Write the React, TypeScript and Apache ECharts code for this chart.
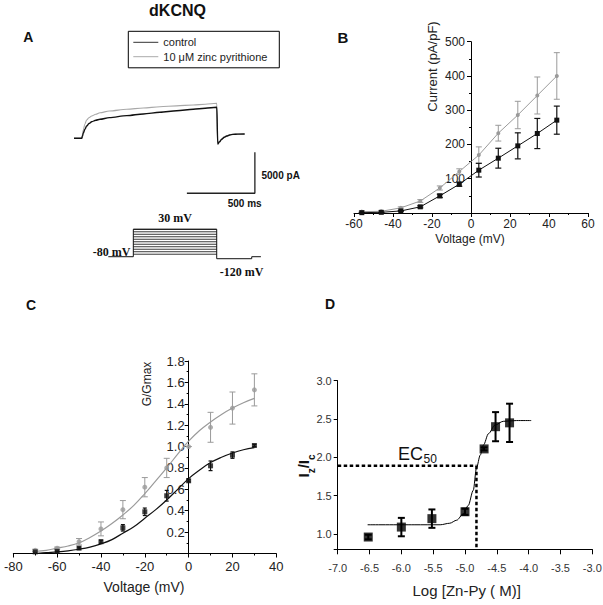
import React, { useEffect, useRef } from "react";
import * as echarts from "echarts";

const SANS = '"Liberation Sans", Arial, sans-serif';
const SERIF = '"Liberation Serif", "Times New Roman", serif';

// ---------- Panel A: current traces (ms, pA) ----------
const traceTimeMs = [0, 57, 62, 68, 80, 93, 110, 130, 160, 191, 260, 388, 510, 632, 755, 877, 965, 1050, 1055, 1057, 1070, 1086, 1105, 1123, 1145, 1169, 1205, 1255];
const traceControlPA = [0, 0, 250, 610, 1100, 1500, 1800, 2020, 2200, 2320, 2520, 2760, 2970, 3170, 3360, 3540, 3660, 3780, 3800, -700, -420, -120, 120, 280, 400, 480, 510, 520];
const traceZincPA = [0, 0, 500, 1000, 1750, 2230, 2500, 2720, 2930, 3120, 3330, 3540, 3700, 3850, 3960, 4060, 4160, 4270, 4290, -650, -380, -100, 140, 300, 420, 500, 520, 530];
const scaleBarMs = 500;
const scaleBarPA = 5000;
const scaleBarCorner = [1330, -6700];

// ---------- Panel A: voltage protocol ----------
const protocolStepsMV = [-70, -60, -50, -40, -30, -20, -10, 0, 10, 20, 30];
const holdingMV = -80;
const tailMV = -120;
const tailDrawnMV = -88; // the figure draws the -120 mV tail schematically, just below holding
const protocolTimesMs = [0, 300, 1300, 1720, 1830];

// ---------- Panel B: I-V ----------
const voltageB = [-56, -46, -36, -26, -16, -6, 4, 14, 24, 34, 44];
const controlB = [1, 2, 6, 18, 50, 84, 125, 160, 196, 232, 271];
const controlBErr = [1, 1, 1, 3, 5, 6, 20, 29, 38, 44, 41];
const zincB = [4, 5, 15, 35, 73, 121, 169, 233, 286, 343, 400];
const zincBErr = [2, 2, 3, 4, 6, 8, 24, 23, 40, 54, 68];

// ---------- Panel C: G/Gmax ----------
const voltageC = [-70, -60, -50, -40, -30, -20, -10, 0, 10, 20, 30];
const controlC = [0.015, 0.02, 0.05, 0.11, 0.24, 0.39, 0.54, 0.68, 0.82, 0.92, 1.01];
const controlCErr = [0.005, 0.005, 0.01, 0.015, 0.03, 0.035, 0.05, 0.01, 0.045, 0.03, 0.01];
const zincC = [0.03, 0.05, 0.11, 0.23, 0.41, 0.62, 0.8, 1.0, 1.18, 1.36, 1.53];
const zincCErr = [0.01, 0.01, 0.03, 0.065, 0.085, 0.09, 0.09, 0.0, 0.14, 0.15, 0.15];
const fitVoltageC = [-70, -65, -60, -55, -50, -45, -40, -35, -30, -25, -20, -15, -10, -5, 0, 5, 10, 15, 20, 25, 30];
const controlFitC = [0.0, 0.008, 0.015, 0.025, 0.04, 0.06, 0.09, 0.13, 0.19, 0.25, 0.33, 0.41, 0.5, 0.6, 0.7, 0.78, 0.85, 0.9, 0.94, 0.97, 0.99];
const zincFitC = [0.02, 0.03, 0.05, 0.07, 0.1, 0.15, 0.21, 0.28, 0.36, 0.45, 0.56, 0.68, 0.8, 0.93, 1.05, 1.15, 1.23, 1.3, 1.36, 1.41, 1.45];

// ---------- Panel D: dose-response ----------
const logConcD = [-6.52, -6.0, -5.52, -5.0, -4.7, -4.52, -4.3];
const ratioD = [0.96, 1.09, 1.2, 1.29, 2.11, 2.4, 2.45];
const ratioDErr = [0.03, 0.12, 0.12, 0.04, 0.02, 0.19, 0.25];
const fitLogD = [-6.53, -5.8, -5.39, -5.24, -5.13, -5.03, -4.95, -4.87, -4.82, -4.76, -4.71, -4.63, -4.53, -4.4, -4.19, -3.96];
const fitRatioD = [1.12, 1.12, 1.12, 1.14, 1.18, 1.26, 1.37, 1.57, 1.86, 2.03, 2.16, 2.31, 2.42, 2.47, 2.48, 2.48];
const ec50Log = -4.82;
const ec50Ratio = 1.89;

const GRAY = "#9a9a9a";
const BLACK = "#111";

function pairs(xs: number[], ys: number[]) {
  return xs.map((x, i) => [x, ys[i]]);
}

function errorBars(ai: number, xs: number[], ys: number[], errs: number[], color: string, width: number, cap: number) {
  return {
    type: "custom",
    xAxisIndex: ai,
    yAxisIndex: ai,
    silent: true,
    z: 2,
    data: xs.map((x, i) => [x, ys[i] - errs[i], ys[i] + errs[i]]),
    encode: { x: 0, y: [1, 2] },
    renderItem: (_p: any, api: any) => {
      const x = api.value(0);
      const a = api.coord([x, api.value(1)]);
      const b = api.coord([x, api.value(2)]);
      const style = { stroke: color, lineWidth: width };
      return {
        type: "group",
        children: [
          { type: "line", shape: { x1: a[0], y1: a[1], x2: b[0], y2: b[1] }, style },
          { type: "line", shape: { x1: a[0] - cap, y1: a[1], x2: a[0] + cap, y2: a[1] }, style },
          { type: "line", shape: { x1: b[0] - cap, y1: b[1], x2: b[0] + cap, y2: b[1] }, style },
        ],
      };
    },
  };
}

function valueAxis(gi: number, o: any) {
  return {
    type: "value",
    gridIndex: gi,
    splitLine: { show: false },
    axisLine: { show: true, onZero: false, lineStyle: { color: "#000", width: 1 } },
    axisTick: { show: true, inside: false, length: 4, lineStyle: { color: "#000" } },
    minorTick: { show: false },
    axisLabel: { fontFamily: SANS, color: "#222", fontSize: 12 },
    ...o,
  };
}

function txt(x: number, y: number, text: string, font: any, extra: any = {}) {
  return {
    type: "text",
    x,
    y,
    silent: true,
    ...extra,
    style: {
      text,
      fill: "#111",
      fontFamily: SANS,
      fontSize: 12,
      align: "center",
      verticalAlign: "middle",
      ...font,
    },
  };
}

// grid geometry (pixels)
const gridB = { left: 354, top: 41.7, width: 234, height: 171.3 };
const gridC = { left: 13.3, top: 361, width: 263, height: 192.5 };
const xRangeB = [-60, 60];
const xRangeC = [-80, 40];

export default function App() {
  const ref = useRef<HTMLDivElement>(null);
  useEffect(() => {
    if (!ref.current) return;
    const chart = echarts.init(ref.current, undefined, { renderer: "svg" });

    const [t0, tOn, tOff, tTailEnd, tEnd] = protocolTimesMs;
    const topStep = protocolStepsMV[protocolStepsMV.length - 1];
    const outline = [
      [t0, holdingMV], [tOn, holdingMV], [tOn, topStep],
      [tOff, topStep], [tOff, tailDrawnMV], [tTailEnd, tailDrawnMV],
      [tTailEnd, holdingMV], [tEnd, holdingMV],
    ];
    const stepSeries = protocolStepsMV.map((v) => ({
      type: "line", xAxisIndex: 1, yAxisIndex: 1, silent: true, showSymbol: false,
      lineStyle: { color: "#222", width: 0.9 }, data: [[tOn, v], [tOff, v]],
    }));

    const [sbx, sby] = scaleBarCorner;
    // y axes of B and C cross the x axis at 0 mV
    const zeroOffsetB = -gridB.width * (0 - xRangeB[0]) / (xRangeB[1] - xRangeB[0]);
    const zeroOffsetC = -gridC.width * (0 - xRangeC[0]) / (xRangeC[1] - xRangeC[0]);

    const gridBase = { containLabel: false, outerBoundsMode: "none" };

    const option: any = {
      animation: false,
      backgroundColor: "#fff",
      grid: [
        { ...gridBase, left: 74, top: 89.1, width: 204, height: 114.8 },
        { ...gridBase, left: 108.3, top: 226.8, width: 152.6, height: 34.9 },
        { ...gridBase, ...gridB },
        { ...gridBase, ...gridC },
        { ...gridBase, left: 337.7, top: 380.7, width: 254.6, height: 168.6 },
      ],
      xAxis: [
        { type: "value", gridIndex: 0, min: 0, max: 1500, show: false },
        { type: "value", gridIndex: 1, min: 0, max: 1830, show: false },
        valueAxis(2, {
          min: xRangeB[0], max: xRangeB[1], interval: 20,
          minorTick: { show: true, splitNumber: 2, length: 2, lineStyle: { color: "#000" } },
          axisLabel: { fontFamily: SANS, color: "#222", fontSize: 12, margin: 5 },
        }),
        valueAxis(3, {
          min: xRangeC[0], max: xRangeC[1], interval: 20,
          minorTick: { show: true, splitNumber: 2, length: 2, lineStyle: { color: "#000" } },
          axisLabel: { fontFamily: SANS, color: "#222", fontSize: 13, margin: 6 },
        }),
        valueAxis(4, {
          min: -7, max: -3, interval: 0.5,
          axisTick: { show: true, inside: false, length: 5, lineStyle: { color: "#000" } },
          axisLabel: { fontFamily: SANS, color: "#333", fontSize: 11, margin: 13, formatter: (v: number) => v.toFixed(1) },
        }),
      ],
      yAxis: [
        { type: "value", gridIndex: 0, min: -8000, max: 6000, show: false },
        { type: "value", gridIndex: 1, min: -100, max: 40, show: false },
        valueAxis(2, {
          min: 0, max: 500, interval: 100, position: "left", offset: zeroOffsetB,
          minorTick: { show: true, splitNumber: 2, length: 2, lineStyle: { color: "#000" } },
          axisLabel: { fontFamily: SANS, color: "#222", fontSize: 12, margin: 6, formatter: (v: number) => (v === 0 ? "" : String(v)) },
        }),
        valueAxis(3, {
          min: 0, max: 1.8, interval: 0.2, position: "left", offset: zeroOffsetC,
          minorTick: { show: true, splitNumber: 2, length: 2, lineStyle: { color: "#000" } },
          axisLabel: { fontFamily: SANS, color: "#222", fontSize: 13, margin: 4, formatter: (v: number) => (v === 0 ? "" : v.toFixed(1)) },
        }),
        valueAxis(4, {
          min: 0.8, max: 3.0,
          axisTick: { show: true, inside: false, length: 4, lineStyle: { color: "#000" } },
          axisLabel: { fontFamily: SANS, color: "#333", fontSize: 11, margin: 6, formatter: (v: number) => (v < 0.95 ? "" : v.toFixed(1)) },
        }),
      ],
      series: [
        // A traces
        { type: "line", xAxisIndex: 0, yAxisIndex: 0, silent: true, showSymbol: false, smooth: 0.3, smoothMonotone: "x",
          lineStyle: { color: "#a8a8a8", width: 1.1 }, data: pairs(traceTimeMs, traceZincPA) },
        { type: "line", xAxisIndex: 0, yAxisIndex: 0, silent: true, showSymbol: false, smooth: 0.3, smoothMonotone: "x",
          lineStyle: { color: BLACK, width: 1.4 }, data: pairs(traceTimeMs, traceControlPA) },
        { type: "line", xAxisIndex: 0, yAxisIndex: 0, silent: true, showSymbol: false,
          lineStyle: { color: "#222", width: 1.3 },
          data: [[sbx - scaleBarMs, sby], [sbx, sby], [sbx, sby + scaleBarPA]] },
        // A protocol
        ...stepSeries,
        { type: "line", xAxisIndex: 1, yAxisIndex: 1, silent: true, showSymbol: false,
          lineStyle: { color: "#111", width: 1 }, data: outline },
        // B
        errorBars(2, voltageB, zincB, zincBErr, GRAY, 1, 3),
        errorBars(2, voltageB, controlB, controlBErr, BLACK, 1.2, 3),
        { type: "line", xAxisIndex: 2, yAxisIndex: 2, silent: true, symbol: "circle", symbolSize: 4,
          itemStyle: { color: GRAY }, lineStyle: { color: GRAY, width: 1 }, data: pairs(voltageB, zincB), z: 3 },
        { type: "line", xAxisIndex: 2, yAxisIndex: 2, silent: true, symbol: "rect", symbolSize: 5,
          itemStyle: { color: BLACK }, lineStyle: { color: BLACK, width: 1 }, data: pairs(voltageB, controlB), z: 4 },
        // C
        errorBars(3, voltageC, zincC, zincCErr, GRAY, 1, 3),
        errorBars(3, voltageC, controlC, controlCErr, BLACK, 1.2, 2),
        { type: "line", xAxisIndex: 3, yAxisIndex: 3, silent: true, showSymbol: false, smooth: 0.4,
          lineStyle: { color: GRAY, width: 1.2 }, data: pairs(fitVoltageC, zincFitC), z: 3 },
        { type: "line", xAxisIndex: 3, yAxisIndex: 3, silent: true, showSymbol: false, smooth: 0.4,
          lineStyle: { color: BLACK, width: 1.2 }, data: pairs(fitVoltageC, controlFitC), z: 3 },
        { type: "scatter", xAxisIndex: 3, yAxisIndex: 3, silent: true, symbol: "circle", symbolSize: 5,
          itemStyle: { color: GRAY }, data: pairs(voltageC, zincC), z: 4 },
        { type: "scatter", xAxisIndex: 3, yAxisIndex: 3, silent: true, symbol: "rect", symbolSize: 5,
          itemStyle: { color: BLACK }, data: pairs(voltageC, controlC), z: 5 },
        // D
        { type: "line", xAxisIndex: 4, yAxisIndex: 4, silent: true, showSymbol: false,
          lineStyle: { color: "#000", width: 2.5, type: [3.5, 2.5] }, data: [[-7, ec50Ratio], [ec50Log, ec50Ratio]], z: 2 },
        { type: "line", xAxisIndex: 4, yAxisIndex: 4, silent: true, showSymbol: false,
          lineStyle: { color: "#000", width: 2.5, type: [3.5, 2.5] }, data: [[ec50Log, ec50Ratio], [ec50Log, 0.8]], z: 2 },
        { type: "line", xAxisIndex: 4, yAxisIndex: 4, silent: true, showSymbol: false, smooth: 0.3, smoothMonotone: "x",
          lineStyle: { color: "#000", width: 1 }, data: pairs(fitLogD, fitRatioD), z: 3 },
        errorBars(4, logConcD, ratioD, ratioDErr, "#000", 2, 3.5),
        { type: "scatter", xAxisIndex: 4, yAxisIndex: 4, silent: true, symbol: "rect", symbolSize: 9,
          itemStyle: { color: "#000" }, data: pairs(logConcD, ratioD), z: 5 },
      ],
      graphic: [
        txt(177.5, 10.5, "dKCNQ", { fontSize: 16, fontWeight: "bold" }),
        txt(28.3, 36.7, "A", { fontSize: 14, fontWeight: "bold" }),
        txt(343, 37.5, "B", { fontSize: 15, fontWeight: "bold" }),
        txt(31, 305, "C", { fontSize: 14, fontWeight: "bold" }),
        txt(330, 304, "D", { fontSize: 14, fontWeight: "bold" }),
        // legend
        { type: "rect", silent: true, shape: { x: 128.3, y: 31.3, width: 151, height: 36.5 },
          style: { fill: "#fff", stroke: "#000", lineWidth: 1 } },
        { type: "line", silent: true, shape: { x1: 133.3, y1: 42.3, x2: 158.3, y2: 42.3 }, style: { stroke: "#333", lineWidth: 1 } },
        { type: "line", silent: true, shape: { x1: 133.3, y1: 56.7, x2: 158.3, y2: 56.7 }, style: { stroke: "#aaa", lineWidth: 1 } },
        txt(163.3, 42.3, "control", { fontSize: 11, align: "left", fill: "#222" }),
        txt(163.3, 56.7, "10 μM zinc pyrithione", { fontSize: 11, align: "left", fill: "#222" }),
        // scale bar labels
        txt(261.5, 175, `${scaleBarPA} pA`, { fontSize: 10, fontWeight: "bold", align: "left" }),
        txt(244.7, 203.3, `${scaleBarMs} ms`, { fontSize: 10, fontWeight: "bold" }),
        // protocol labels
        txt(175, 218.3, `${topStep} mV`, { fontSize: 12, fontWeight: "bold", fontFamily: SERIF }),
        txt(130.5, 251.5, `${holdingMV} mV`, { fontSize: 12, fontWeight: "bold", fontFamily: SERIF, align: "right" }),
        txt(241.5, 271.5, `${tailMV} mV`, { fontSize: 12, fontWeight: "bold", fontFamily: SERIF }),
        // B axis names
        txt(432, 66.5, "Current (pA/pF)", { fontSize: 13, fill: "#222" }, { rotation: Math.PI / 2 }),
        txt(470, 239, "Voltage (mV)", { fontSize: 12, fill: "#222" }),
        // C axis names
        txt(146.7, 384, "G/Gmax", { fontSize: 12, fill: "#222" }, { rotation: Math.PI / 2 }),
        txt(144, 586.7, "Voltage (mV)", { fontSize: 14, fill: "#222" }),
        // D axis names and EC50
        txt(466.7, 590, "Log [Zn-Py ( M)]", { fontSize: 15, fill: "#222" }),
        {
          type: "text", x: 306, y: 466, rotation: Math.PI / 2, silent: true,
          style: {
            text: "{m|I}{s|z}{m|/I}{s|c}", align: "center", verticalAlign: "middle", fill: "#111",
            rich: {
              m: { fontFamily: SANS, fontSize: 15, fontWeight: "bold", verticalAlign: "top", lineHeight: 16, fill: "#111" },
              s: { fontFamily: SANS, fontSize: 10, fontWeight: "bold", verticalAlign: "bottom", lineHeight: 21, fill: "#111" },
            },
          },
        },
        txt(398, 453.7, "EC", { fontSize: 18, align: "left" }),
        txt(423.5, 458.5, "50", { fontSize: 12, align: "left" }),
      ],
    };

    chart.setOption(option);
    return () => chart.dispose();
  }, []);

  return (
    <div style={{ position: "absolute", left: 0, top: 0, width: 603, height: 605, background: "#fff" }}>
      <div ref={ref} style={{ width: 603, height: 605 }} />
    </div>
  );
}
